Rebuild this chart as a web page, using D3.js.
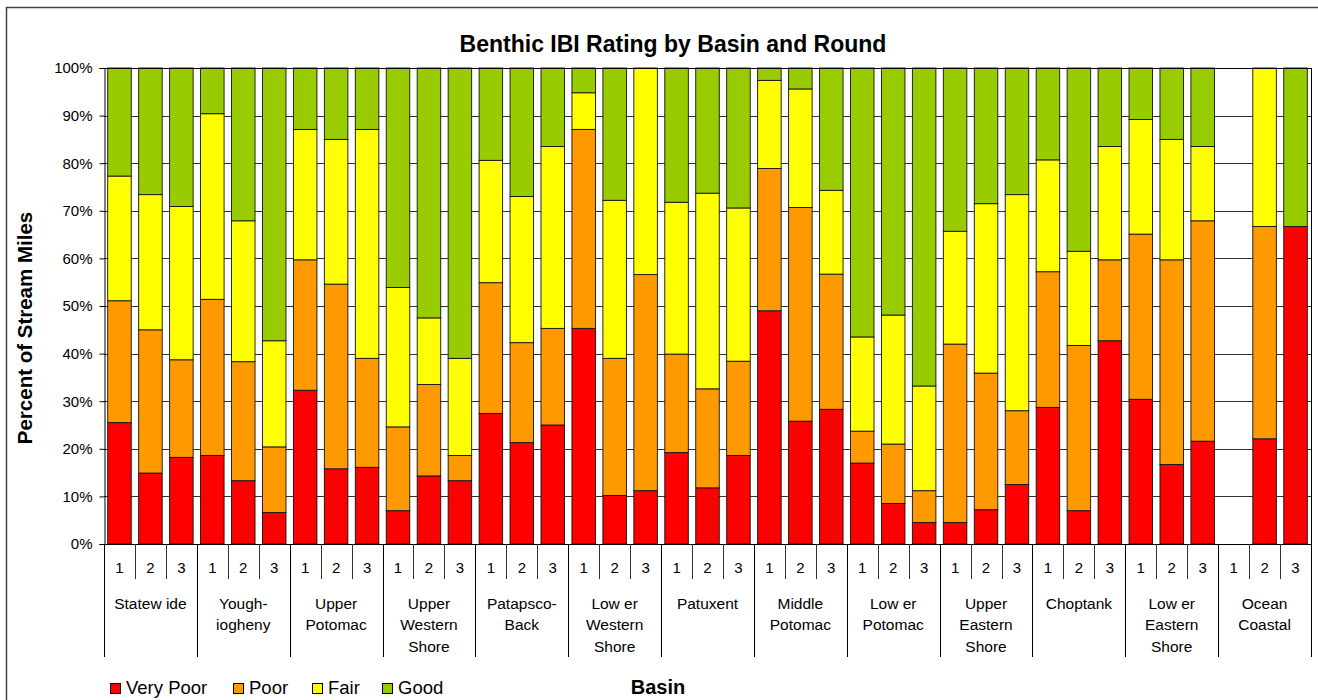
<!DOCTYPE html>
<html>
<head>
<meta charset="utf-8">
<script src="https://cdn.jsdelivr.net/npm/d3@7"></script>
<style>
  html, body { margin: 0; padding: 0; background: #fff; }
  svg { display: block; font-family: "Liberation Sans", Arial, sans-serif; }
</style>
</head>
<body>
<svg id="chart" width="1318" height="700"></svg>
<script>
// ---- Data ----
const basinLabels = [
  ["Statew ide"], ["Yough-", "iogheny"], ["Upper", "Potomac"], ["Upper", "Western", "Shore"],
  ["Patapsco-", "Back"], ["Low er", "Western", "Shore"], ["Patuxent"], ["Middle", "Potomac"],
  ["Low er", "Potomac"], ["Upper", "Eastern", "Shore"], ["Choptank"], ["Low er", "Eastern", "Shore"],
  ["Ocean", "Coastal"]
];
const rounds = ["1", "2", "3"];
const seriesNames = ["Very Poor", "Poor", "Fair", "Good"];
const seriesColors = ["#FF0000", "#FF9900", "#FFFF00", "#99CC00"];

// percent of stream miles, ordered basin by basin, rounds 1-3
const veryPoor = [25.5,14.9,18.2, 18.6,13.3,6.6, 32.3,15.8,16.1, 7.0,14.3,13.3, 27.4,21.3,25.0, 45.3,10.2,11.2, 19.2,11.8,18.6, 49.0,25.8,28.3, 17.0,8.5,4.5, 4.5,7.2,12.5, 28.7,7.0,42.7, 30.4,16.7,21.6, 0,22.1,66.7];
const poor     = [25.6,30.1,20.5, 32.8,25.0,13.8, 27.4,38.8,22.9, 17.6,19.2,5.3, 27.5,21.0,20.3, 41.8,28.8,45.4, 20.7,20.8,19.8, 29.9,44.9,28.4, 6.7,12.5,6.7, 37.5,28.7,15.5, 28.5,34.7,17.0, 34.7,43.0,46.3, 0,44.6,0];
const fair     = [26.2,28.4,32.2, 39.0,29.6,22.3, 27.4,30.4,48.1, 29.3,14.0,20.4, 25.7,30.7,38.2, 7.7,33.2,43.4, 31.9,41.1,32.2, 18.5,24.9,17.6, 19.8,27.1,22.0, 23.7,35.6,45.4, 23.5,19.8,23.8, 24.1,25.3,15.6, 0,33.3,0];
const good     = [22.7,26.6,29.1, 9.6,32.1,57.3, 12.9,15.0,12.9, 46.1,52.5,61.0, 19.4,27.0,16.5, 5.2,27.8,0, 28.2,26.3,29.4, 2.6,4.4,25.7, 56.5,51.9,66.8, 34.3,28.5,26.6, 19.3,38.5,16.5, 10.8,15.0,16.5, 0,0,33.3];
const yTicks = [0,10,20,30,40,50,60,70,80,90,100];

(function () {
// ---- Build table ----
const seriesData = [veryPoor, poor, fair, good];
const rows = [];
basinLabels.forEach((b, bi) => {
  rounds.forEach((r, ri) => {
    const i = bi * rounds.length + ri;
    const row = { key: bi + "-" + r, basin: bi, round: r };
    seriesNames.forEach((s, si) => row[s] = seriesData[si][i]);
    rows.push(row);
  });
});

// ---- Layout ----
const svg = d3.select("#chart");
const pL = 104, pR = 1311, pT = 68, pB = 544;

// outer frame
svg.append("rect").attr("x", 6.5).attr("y", 7.5).attr("width", 1330).attr("height", 720)
  .attr("fill", "#fff").attr("stroke", "#444").attr("stroke-width", 1.5);

const x = d3.scaleBand().domain(rows.map(d => d.key)).range([pL, pR]).paddingInner(0.24).paddingOuter(0.12);
const y = d3.scaleLinear().domain([0, 100]).range([pB, pT]);
const xAt = i => pL + i * (pR - pL) / rows.length;

// gridlines
svg.append("g").selectAll("line").data(yTicks).join("line")
  .attr("x1", pL).attr("x2", pR)
  .attr("y1", d => Math.round(y(d)) + 0.5).attr("y2", d => Math.round(y(d)) + 0.5)
  .attr("stroke", "#333").attr("stroke-width", 1);

// bars
const stack = d3.stack().keys(seriesNames);
const layers = stack(rows);
svg.append("g").selectAll("g").data(layers).join("g")
  .attr("fill", (d, i) => seriesColors[i])
  .selectAll("rect").data(d => d.filter(p => p[1] - p[0] > 0)).join("rect")
  .attr("x", d => x(d.data.key))
  .attr("width", x.bandwidth())
  .attr("y", d => y(d[1]))
  .attr("height", d => y(d[0]) - y(d[1]))
  .attr("stroke", "#111").attr("stroke-width", 0.9);

// plot border (top/right)
svg.append("line").attr("x1", pL).attr("x2", pR).attr("y1", pT + 0.5).attr("y2", pT + 0.5).attr("stroke", "#000");
svg.append("line").attr("x1", pR + 0.5).attr("x2", pR + 0.5).attr("y1", pT).attr("y2", pB).attr("stroke", "#000");

// y axis
const yAxis = d3.axisLeft(y).tickValues(yTicks).tickFormat(d => d + "%").tickSize(5).tickPadding(7);
const gy = svg.append("g").attr("transform", `translate(${pL + 0.5},0)`).call(yAxis);
gy.select(".domain").attr("stroke", "#000");
gy.selectAll(".tick line").attr("stroke", "#000");
gy.selectAll(".tick text").attr("font-size", 15).attr("fill", "#000")
  .attr("font-family", '"Liberation Sans", Arial, sans-serif');

// x axis baseline
svg.append("line").attr("x1", pL).attr("x2", pR).attr("y1", pB + 0.5).attr("y2", pB + 0.5).attr("stroke", "#000");

// category separator ticks
const gx = svg.append("g");
d3.range(rows.length + 1).forEach(i => {
  const isGroup = i % rounds.length === 0;
  gx.append("line")
    .attr("x1", Math.round(xAt(i)) + 0.5).attr("x2", Math.round(xAt(i)) + 0.5)
    .attr("y1", pB).attr("y2", isGroup ? 657 : 579)
    .attr("stroke", isGroup ? "#000" : "#333").attr("stroke-width", 1);
});

// round labels
gx.selectAll("text.round").data(rows).join("text").attr("class", "round")
  .attr("x", d => x(d.key) + x.bandwidth() / 2)
  .attr("y", 572.5)
  .attr("text-anchor", "middle").attr("font-size", 15).attr("fill", "#000")
  .text(d => d.round);

// basin labels
basinLabels.forEach((lines, bi) => {
  const cx = (xAt(bi * 3) + xAt(bi * 3 + 3)) / 2;
  lines.forEach((ln, li) => {
    gx.append("text").attr("x", cx).attr("y", 608.5 + li * 21.8)
      .attr("text-anchor", "middle").attr("font-size", 15.5).attr("fill", "#000")
      .style("white-space", "pre")
      .text(ln);
  });
});

// title
svg.append("text").attr("x", 673).attr("y", 52).attr("text-anchor", "middle")
  .attr("font-size", 23).attr("font-weight", "bold").text("Benthic IBI Rating by Basin and Round");

// y title
svg.append("text").attr("transform", "translate(31.5,328) rotate(-90)").attr("text-anchor", "middle")
  .attr("font-size", 20.5).attr("font-weight", "bold").text("Percent of Stream Miles");

// x title
svg.append("text").attr("x", 658).attr("y", 694).attr("text-anchor", "middle")
  .attr("font-size", 20).attr("font-weight", "bold").text("Basin");

// legend
const legendX = [110, 233, 312, 382];
const lg = svg.append("g");
seriesNames.forEach((s, i) => {
  lg.append("rect").attr("x", legendX[i] + 0.5).attr("y", 683.5).attr("width", 10).attr("height", 10)
    .attr("fill", seriesColors[i]).attr("stroke", "#000").attr("stroke-width", 1);
  lg.append("text").attr("x", legendX[i] + 16).attr("y", 694).attr("font-size", 18.5).attr("fill", "#000").text(s);
});
})();
</script>
</body>
</html>
